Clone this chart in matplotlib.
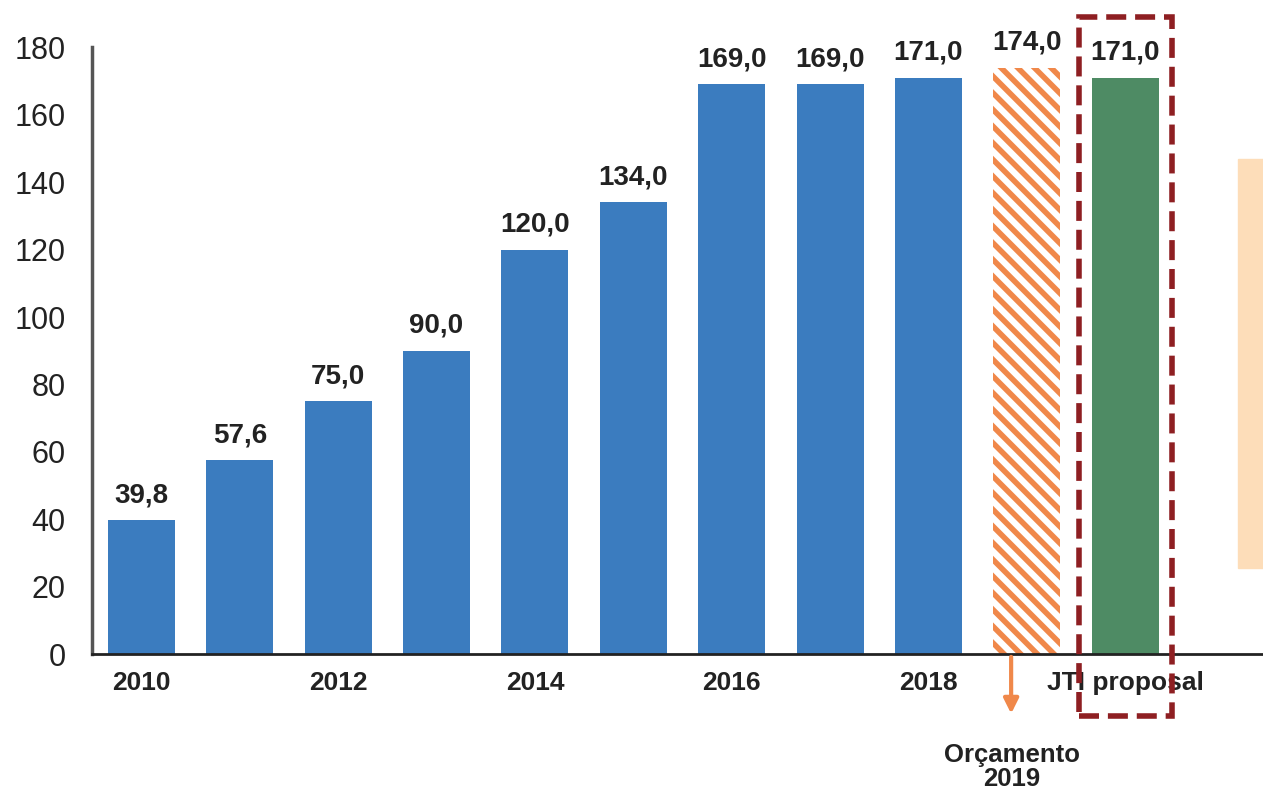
import numpy as np
import matplotlib; matplotlib.use("Agg")
import matplotlib.pyplot as plt
from matplotlib.patches import Rectangle

plt.rcParams["font.family"] = ["Liberation Sans", "DejaVu Sans"]
plt.rcParams["hatch.linewidth"] = 4.0

# ---- data ----
years = [2010, 2011, 2012, 2013, 2014, 2015, 2016, 2017, 2018]
values = [39.8, 57.6, 75.0, 90.0, 120.0, 134.0, 169.0, 169.0, 171.0]
budget_2019 = 174.0
jti_proposal = 171.0
tick_labels = ["2010", "", "2012", "", "2014", "", "2016", "", "2018", "", "JTI proposal"]
side_box = (25.5, 147.0)   # partial peach block cut off at the right edge

BLUE, GREEN, ORANGE, RED = "#3B7CBF", "#4E8B64", "#F0884A", "#8E1F22"

fig = plt.figure(figsize=(12.63, 7.90), dpi=100)
ax = fig.add_axes([0.073, 0.172, 0.927, 0.768])

x = np.arange(len(years))
w = 0.68
ax.bar(x, values, width=w, color=BLUE, zorder=2)
xb = len(years)
ax.bar(xb, budget_2019, width=w, color="white", edgecolor=ORANGE,
       hatch="\\\\", linewidth=0, zorder=2)
xj = len(years) + 1
ax.bar(xj, jti_proposal, width=w, color=GREEN, zorder=2)

allv = values + [budget_2019, jti_proposal]
for xi, v in zip(range(len(allv)), allv):
    ax.text(xi, v + 3.5, f"{v:.1f}".replace(".", ","), ha="center", va="bottom",
            fontsize=20, fontweight="bold", color="#222222")

# peach block at far right
ax.add_patch(Rectangle((xj + 1.15, side_box[0]), 0.5, side_box[1] - side_box[0],
                       color="#FDDDB9", zorder=1, clip_on=True))

ax.set_xlim(-0.5, xj + 1.4)
ax.set_ylim(0, 180)
ax.set_yticks(np.arange(0, 181, 20))
ax.tick_params(axis="y", length=0, labelsize=22, pad=19, labelcolor="#222222")
ax.set_xticks(range(len(tick_labels)))
ax.set_xticklabels(tick_labels, fontsize=19, fontweight="bold", color="#222222")
ax.tick_params(axis="x", length=0, pad=12)
ax.spines[["top", "right"]].set_visible(False)
ax.spines["left"].set_color("#555555")
ax.spines["left"].set_linewidth(2.5)
ax.spines["bottom"].set_color("#222222")
ax.spines["bottom"].set_linewidth(2)

# orange arrow + Orçamento 2019 label
ax.annotate("", xy=(xb - 0.16, -18.5), xytext=(xb - 0.16, 0),
            xycoords="data", textcoords="data", annotation_clip=False,
            arrowprops=dict(arrowstyle="-|>", color=ORANGE, lw=3,
                            mutation_scale=22))
ax.text(xb - 0.15, -26.3, "Orçamento\n2019", ha="center", va="top",
        fontsize=18.5, fontweight="bold", color="#222222", linespacing=1.0,
        clip_on=False)

# red dashed highlight box
ax.add_patch(Rectangle((xj - 0.47, -18.4), 0.94, 207.3, fill=False,
                       edgecolor=RED, lw=4, ls=(0, (3.6, 1.6)),
                       clip_on=False, zorder=5))

fig.savefig("out.png", dpi=100)
